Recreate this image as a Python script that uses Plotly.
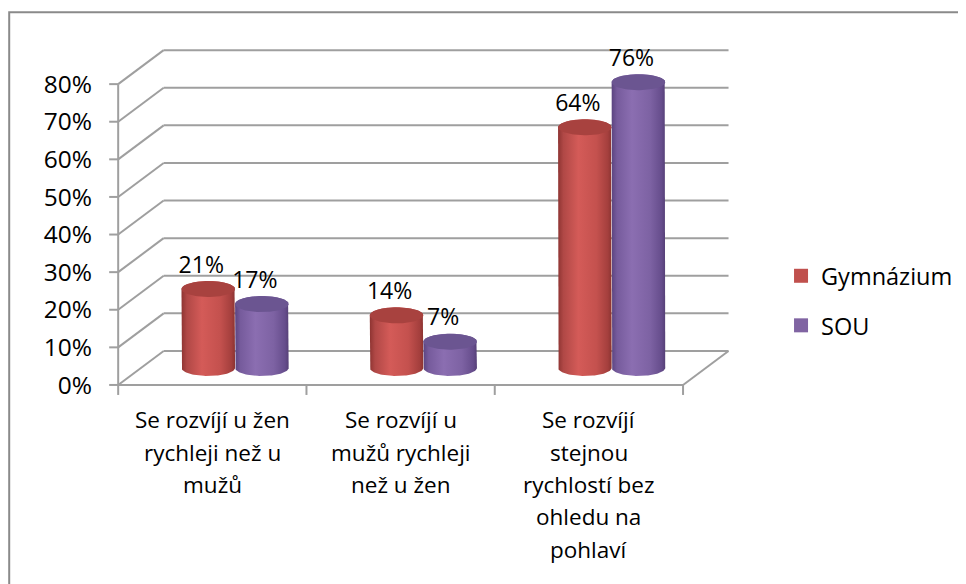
import numpy as np
import plotly.graph_objects as go

# ---------------- data ----------------
categories = [
    "Se rozvíjí u žen rychleji než u mužů",
    "Se rozvíjí u mužů rychleji než u žen",
    "Se rozvíjí stejnou rychlostí bez ohledu na pohlaví",
]
category_labels = [
    "Se rozvíjí u žen<br>rychleji než u<br>mužů",
    "Se rozvíjí u<br>mužů rychleji<br>než u žen",
    "Se rozvíjí<br>stejnou<br>rychlostí bez<br>ohledu na<br>pohlaví",
]
series_names = ["Gymnázium", "SOU"]
gymnazium = [21, 14, 64]
sou = [17, 7, 76]
y_tick_values = [0, 10, 20, 30, 40, 50, 60, 70, 80]
y_tick_labels = ["0%", "10%", "20%", "30%", "40%", "50%", "60%", "70%", "80%"]

# ---------------- styling / geometry ----------------
W, H = 966, 584
OFF = 8                          # page body margin in the browser
X0PX, Y0PX = 118 - OFF, 385 - OFF  # figure-pixel position of the data origin
PXX, PXY = 188.33, 3.7625        # pixels per x unit / per %
xlo, xhi = -0.07, 3.26
ylo, yhi = -4.0, 92.0
left_px = X0PX + xlo * PXX
right_px = X0PX + xhi * PXX
bottom_px = Y0PX - ylo * PXY
top_px = Y0PX - yhi * PXY
plot_w = right_px - left_px
plot_h = bottom_px - top_px

DX = 45.5 / PXX                # depth offset (x units)
DY = 34.0 / PXY                # depth offset (% units)
HW = 26.8 / PXX                # half width of cylinder
EB = 8.0 / PXY                 # ellipse vertical semi-axis
n_cat = len(categories)

GRID = "#9f9f9f"
FONT = "Open Sans"
fill_scales = [
    [[0, "#8e3432"], [0.1, "#b04846"], [0.38, "#d45b58"], [0.72, "#c4514e"], [0.93, "#a43f3d"], [1, "#8a3331"]],
    [[0, "#5b4480"], [0.1, "#765b9c"], [0.38, "#8b6eb1"], [0.72, "#7d62a3"], [0.93, "#664d8c"], [1, "#564077"]],
]
top_colors = ["#a8423f", "#6b5591"]
legend_colors = ["#c0504d", "#8064a2"]

fig = go.Figure()

def px2paper_x(px):   # screenshot px -> paper
    return (px - OFF - left_px) / plot_w
def px2paper_y(py):
    return (bottom_px - (py - OFF)) / plot_h

# ---------------- frame (walls, floor, axis) ----------------
shapes = []
def seg(x0, y0, x1, y1):
    shapes.append(dict(type="line", xref="x", yref="y", x0=x0, y0=y0, x1=x1, y1=y1,
                       line=dict(color=GRID, width=2), layer="below"))

for v in y_tick_values:
    seg(DX, v + DY, n_cat + DX, v + DY)      # back wall gridline
    seg(0, v, DX, v + DY)                    # side wall diagonal
    seg(-9 / PXX, v, 0, v)                   # y tick mark
seg(0, 0, 0, y_tick_values[-1])              # front vertical axis
seg(0, 0, n_cat, 0)                          # front floor edge
seg(n_cat, 0, n_cat + DX, DY)                # right floor edge
for c in range(n_cat + 1):
    seg(c, 0, c, -10 / PXY)                  # category tick marks

# outer chart border
shapes.append(dict(type="rect", xref="paper", yref="paper",
                   x0=px2paper_x(OFF + 1), y0=px2paper_y(620), x1=px2paper_x(1000), y1=px2paper_y(12),
                   line=dict(color="#8a8a8a", width=2), layer="below"))

# ---------------- cylinders ----------------
t = np.linspace(0, np.pi, 48)
tt = np.linspace(0, 2 * np.pi, 80)
series_values = [gymnazium, sou]
for s, vals in enumerate(series_values):
    for c, v in enumerate(vals):
        xc = c + 0.5 + DX / 2 + (2 * s - 1) * HW
        y0 = DY / 2
        yt = v + DY / 2
        bx = np.concatenate([[xc - HW], xc - HW * np.cos(t), [xc + HW], xc + HW * np.cos(t)])
        by = np.concatenate([[yt], y0 - EB * np.sin(t), [yt], yt + EB * np.sin(t)])
        fig.add_trace(go.Scatter(
            x=bx, y=by, mode="lines", fill="toself", line=dict(width=0),
            fillgradient=dict(type="horizontal", colorscale=fill_scales[s]),
            showlegend=False, hoverinfo="skip"))
        fig.add_trace(go.Scatter(
            x=xc + HW * np.cos(tt), y=yt + EB * np.sin(tt), mode="lines", fill="toself",
            line=dict(width=0), fillcolor=top_colors[s],
            showlegend=False, hoverinfo="skip"))
        fig.add_trace(go.Scatter(
            x=[xc - 7 / PXX], y=[yt + 22 / PXY], mode="text", text=[f"{v}%"],
            textposition="middle center", textfont=dict(family=FONT, size=23, color="#000000"),
            showlegend=False, hoverinfo="skip", cliponaxis=False))

# ---------------- category labels (one annotation per line) ----------------
annotations = []
LINE_H = 32.3
for c, lab in enumerate(category_labels):
    for i, line in enumerate(lab.split("<br>")):
        annotations.append(dict(
            x=c + 0.5, xref="x", y=px2paper_y(420 + i * LINE_H), yref="paper",
            text=line, showarrow=False, xanchor="center", yanchor="middle",
            font=dict(family=FONT, size=22.5, color="#000000")))

# ---------------- legend entries ----------------
for s, name in enumerate(series_names):
    fig.add_trace(go.Scatter(
        x=[None], y=[None], mode="markers", name=name, legendgroup=name,
        marker=dict(symbol="square", size=14, color=legend_colors[s])))

fig.update_layout(
    width=W, height=H,
    margin=dict(l=left_px, r=W - right_px, t=top_px, b=H - bottom_px, autoexpand=False),
    paper_bgcolor="white", plot_bgcolor="white",
    shapes=shapes, annotations=annotations,
    font=dict(family=FONT, size=22, color="#000000"),
    showlegend=True,
    legend=dict(x=px2paper_x(781), y=px2paper_y(301), xanchor="left", yanchor="middle",
                font=dict(family=FONT, size=23.5, color="#000000"),
                tracegroupgap=16, bgcolor="rgba(0,0,0,0)"),
    xaxis=dict(range=[xlo, xhi], showticklabels=False,
               ticks="", showgrid=False, zeroline=False, showline=False),
    yaxis=dict(range=[ylo, yhi], tickvals=y_tick_values, ticktext=y_tick_labels,
               ticks="", showgrid=False, zeroline=False, showline=False,
               tickfont=dict(family=FONT, size=24.5, color="#000000"), ticklabelstandoff=12),
)

fig.write_html("out.html")
